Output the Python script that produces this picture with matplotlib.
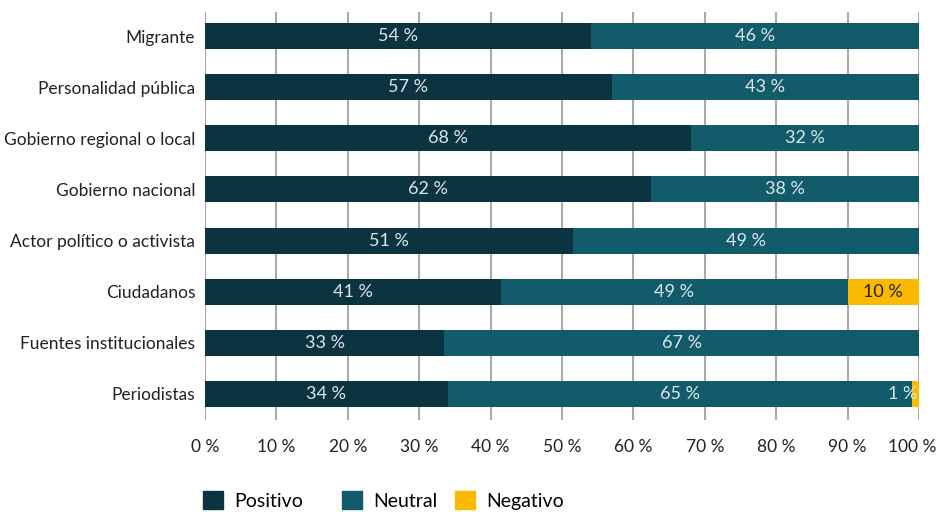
import matplotlib
matplotlib.use('Agg')
import matplotlib.pyplot as plt
from matplotlib.patches import Patch
from matplotlib.transforms import ScaledTranslation

# data (share of mentions, %)
categories = ['Migrante', 'Personalidad pública', 'Gobierno regional o local',
              'Gobierno nacional', 'Actor político o activista', 'Ciudadanos',
              'Fuentes institucionales', 'Periodistas']
positivo = [54.0, 57.0, 68.0, 62.5, 51.5, 41.5, 33.5, 34.0]
neutral = [46.0, 43.0, 32.0, 37.5, 48.5, 48.5, 66.5, 65.0]
negativo = [0.0, 0.0, 0.0, 0.0, 0.0, 10.0, 0.0, 1.0]
# labels as printed in the source
lab_pos = [54, 57, 68, 62, 51, 41, 33, 34]
lab_neu = [46, 43, 32, 38, 49, 49, 67, 65]
lab_neg = [None, None, None, None, None, 10, None, 1]
series_names = ['Positivo', 'Neutral', 'Negativo']
xticks = [0, 10, 20, 30, 40, 50, 60, 70, 80, 90, 100]

colors = ['#0b3340', '#115b6b', '#fbb900']
plt.rcParams['font.family'] = ['Lato', 'DejaVu Sans']

fig = plt.figure(figsize=(9.37, 5.12), dpi=100)
ax = fig.add_axes([205 / 937, 1 - 420 / 512, 714 / 937, 408 / 512])

y = list(range(len(categories)))
h = 0.51
left_neu = positivo
left_neg = [p + n for p, n in zip(positivo, neutral)]
ax.barh(y, positivo, height=h, color=colors[0], zorder=3)
ax.barh(y, neutral, left=left_neu, height=h, color=colors[1], zorder=3)
ax.barh(y, negativo, left=left_neg, height=h, color=colors[2], zorder=3)

txt_kw = dict(va='center', fontsize=13, zorder=4)
for i in y:
    ax.text(positivo[i] / 2, i, f'{lab_pos[i]} %', ha='center', color='#dde6ea', **txt_kw)
    ax.text(left_neu[i] + neutral[i] / 2, i, f'{lab_neu[i]} %', ha='center', color='#dde6ea', **txt_kw)
    if lab_neg[i] is not None:
        if negativo[i] >= 5:
            ax.text(left_neg[i] + negativo[i] / 2, i, f'{lab_neg[i]} %', ha='center',
                    color='#222222', **txt_kw)
        else:
            ax.text(100 - 0.2, i, f'{lab_neg[i]} %', ha='right', color='#dde6ea', **txt_kw)

ax.set_xlim(0, 100)
ax.set_ylim(7.51, -0.47)
ax.set_xticks(xticks)
ax.set_xticklabels([f'{t} %' for t in xticks], fontsize=12.5, color='#222222')
ax.set_yticks(y)
ax.set_yticklabels(categories, fontsize=12.5, color='#222222')
ax.tick_params(length=0)
ax.tick_params(axis='x', pad=14)
ax.tick_params(axis='y', pad=7)
ax.grid(axis='x', color='#aaaaaa', linewidth=1.5, zorder=0)
for s in ax.spines.values():
    s.set_visible(False)

# nudge the last tick label so it stays inside the figure
last = ax.get_xticklabels()[-1]
last.set_transform(last.get_transform() + ScaledTranslation(-0.07, 0, fig.dpi_scale_trans))

# legend entries placed one by one (uneven spacing as in the source)
leg_x = [186, 325, 438]
for name, c, x0 in zip(series_names, colors, leg_x):
    fig.legend([Patch(color=c)], [name], loc='lower left',
               bbox_to_anchor=(x0 / 937, -0.03), frameon=False, fontsize=14,
               handlelength=1.0, handleheight=1.0, handletextpad=0.6)

fig.savefig('out.png', dpi=100)
